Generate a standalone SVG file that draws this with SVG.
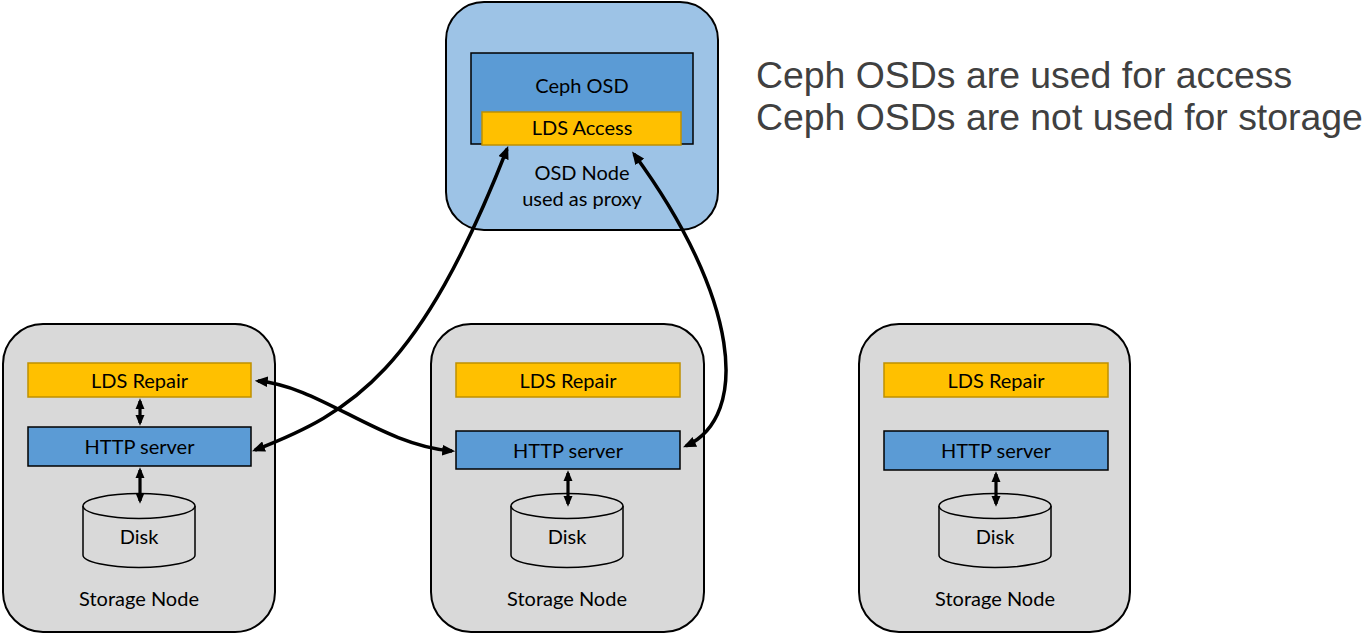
<svg xmlns="http://www.w3.org/2000/svg" width="1365" height="636" viewBox="0 0 1365 636">
<style>
.node{fill:#D9D9D9;stroke:#000;stroke-width:2}
.osd{fill:#9DC3E6;stroke:#000;stroke-width:2}
.blue{fill:#5B9BD5;stroke:#000;stroke-width:1.5}
.gold{fill:#FFC000;stroke:#BF9000;stroke-width:1.5}
.disk{fill:#D9D9D9;stroke:#000;stroke-width:1.5}
.t{font-family:Lato,"Noto Sans",sans-serif;font-size:20px;fill:#000;text-anchor:middle}
.note{font-family:"Liberation Sans",Arial,sans-serif;font-size:37.4px;fill:#404040}
.conn{fill:none;stroke:#000;stroke-width:3.5;marker-start:url(#ah);marker-end:url(#ah)}
.conn2{fill:none;stroke:#000;stroke-width:3.2;marker-start:url(#ah2);marker-end:url(#ah2)}
</style>
<defs>
<marker id="ah" viewBox="0 0 12 10" refX="9" refY="5" markerWidth="13" markerHeight="11" markerUnits="userSpaceOnUse" orient="auto-start-reverse"><path d="M0,0 L12,5 L0,10 z" fill="#000"/></marker>
<marker id="ah2" viewBox="0 0 12 10" refX="9" refY="5" markerWidth="11" markerHeight="11" markerUnits="userSpaceOnUse" orient="auto-start-reverse"><path d="M0,0 L12,5 L0,10 z" fill="#000"/></marker>
</defs>
<rect width="1365" height="636" fill="#fff"/>

<g id="osd-node">
<rect class="osd" x="446" y="2" width="272" height="228" rx="38"/>
<rect class="blue" x="471" y="53" width="222" height="91"/>
<rect class="gold" x="482" y="112" width="199" height="33"/>
<text class="t" x="582" y="93">Ceph OSD</text>
<text class="t" x="582" y="135">LDS Access</text>
<text class="t" x="582" y="180">OSD Node</text>
<text class="t" x="582" y="206">used as proxy</text>
</g>

<g id="storage-node-1">
<rect class="node" x="3" y="324" width="272" height="308" rx="40"/>
<rect class="gold" x="28" y="363" width="223" height="34"/>
<text class="t" x="139.5" y="388">LDS Repair</text>
<rect class="blue" x="28" y="427" width="223" height="39"/>
<text class="t" x="139.5" y="454">HTTP server</text>
<path class="disk" d="M83,506 L83,555 A56,12.5 0 0 0 195,555 L195,506 A56,12.5 0 0 0 83,506 Z"/>
<path class="disk" d="M83,506 A56,12.5 0 0 0 195,506" fill="none"/>
<text class="t" x="139" y="544">Disk</text>
<text class="t" x="139" y="606">Storage Node</text>
</g>

<g id="storage-node-2">
<rect class="node" x="431" y="324" width="273" height="308" rx="40"/>
<rect class="gold" x="456" y="363" width="224" height="34"/>
<text class="t" x="568" y="388">LDS Repair</text>
<rect class="blue" x="456" y="431" width="224" height="38"/>
<text class="t" x="568" y="458">HTTP server</text>
<path class="disk" d="M511,506 L511,555 A56,12.5 0 0 0 623,555 L623,506 A56,12.5 0 0 0 511,506 Z"/>
<path class="disk" d="M511,506 A56,12.5 0 0 0 623,506" fill="none"/>
<text class="t" x="567" y="544">Disk</text>
<text class="t" x="567" y="606">Storage Node</text>
</g>

<g id="storage-node-3">
<rect class="node" x="859" y="324" width="271" height="308" rx="40"/>
<rect class="gold" x="884" y="363" width="224" height="34"/>
<text class="t" x="996" y="388">LDS Repair</text>
<rect class="blue" x="884" y="431" width="224" height="39"/>
<text class="t" x="996" y="458">HTTP server</text>
<path class="disk" d="M939,506 L939,555 A56,12.5 0 0 0 1051,555 L1051,506 A56,12.5 0 0 0 939,506 Z"/>
<path class="disk" d="M939,506 A56,12.5 0 0 0 1051,506" fill="none"/>
<text class="t" x="995" y="544">Disk</text>
<text class="t" x="995" y="606">Storage Node</text>
</g>

<g id="connectors">
<path class="conn" d="M255,450 C353,412 420,371 507,149"/>
<path class="conn" d="M258,381 C320,386 380,445 452,451"/>
<path class="conn" d="M634,154 C739,297 751,416 686,446"/>
<line class="conn2" x1="140" y1="401" x2="140" y2="423"/>
<line class="conn2" x1="140" y1="470" x2="140" y2="501"/>
<line class="conn2" x1="568" y1="473" x2="568" y2="504"/>
<line class="conn2" x1="996" y1="474" x2="996" y2="504"/>
</g>

<g id="notes">
<text class="note" x="756" y="88">Ceph OSDs are used for access</text>
<text class="note" x="756" y="130">Ceph OSDs are not used for storage</text>
</g>
</svg>
